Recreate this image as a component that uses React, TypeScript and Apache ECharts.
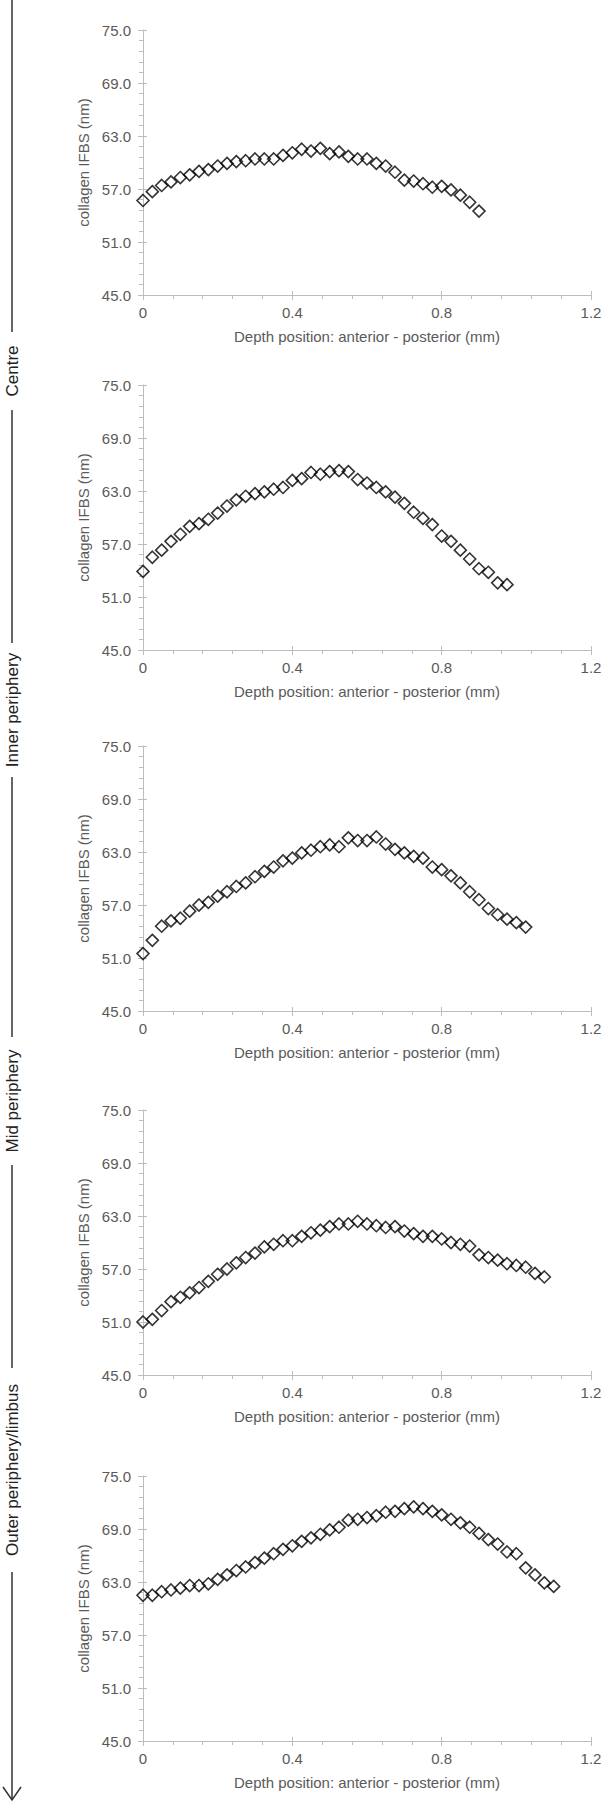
import React, { useEffect, useRef } from "react";
import * as echarts from "echarts";

// Depth positions (mm), anterior -> posterior
const depth = [
  0, 0.025, 0.05, 0.075, 0.1, 0.125, 0.15, 0.175, 0.2, 0.225,
  0.25, 0.275, 0.3, 0.325, 0.35, 0.375, 0.4, 0.425, 0.45, 0.475,
  0.5, 0.525, 0.55, 0.575, 0.6, 0.625, 0.65, 0.675, 0.7, 0.725,
  0.75, 0.775, 0.8, 0.825, 0.85, 0.875, 0.9, 0.925, 0.95, 0.975,
  1.0, 1.025, 1.05, 1.075, 1.1,
];

// collagen IFBS (nm) per panel, top to bottom
const panel1 = [
  55.7, 56.7, 57.4, 57.8, 58.3, 58.6, 59.0, 59.2, 59.6, 59.9,
  60.1, 60.2, 60.4, 60.4, 60.4, 60.8, 61.1, 61.5, 61.3, 61.6,
  61.0, 61.2, 60.7, 60.4, 60.4, 59.9, 59.6, 58.9, 58.0, 57.9,
  57.6, 57.2, 57.3, 56.9, 56.3, 55.5, 54.5,
];
const panel2 = [
  53.9, 55.5, 56.3, 57.3, 58.1, 59.0, 59.3, 59.8, 60.5, 61.3,
  62.0, 62.4, 62.7, 62.9, 63.2, 63.4, 64.2, 64.4, 65.1, 64.9,
  65.2, 65.3, 65.2, 64.3, 63.9, 63.4, 62.9, 62.3, 61.6, 60.6,
  59.9, 59.2, 57.9, 57.3, 56.3, 55.3, 54.2, 53.8, 52.6, 52.4,
];
const panel3 = [
  51.5, 53.0, 54.6, 55.2, 55.5, 56.3, 57.0, 57.3, 58.0, 58.5,
  59.1, 59.5, 60.2, 60.8, 61.3, 62.0, 62.3, 62.9, 63.2, 63.6,
  63.8, 63.6, 64.6, 64.3, 64.3, 64.7, 63.9, 63.3, 62.9, 62.5,
  62.3, 61.3, 61.0, 60.3, 59.5, 58.5, 57.6, 56.6, 55.9, 55.4,
  55.0, 54.5,
];
const panel4 = [
  51.0, 51.3, 52.3, 53.3, 53.8, 54.3, 54.9, 55.6, 56.4, 57.0,
  57.7, 58.3, 58.8, 59.5, 59.8, 60.2, 60.2, 60.7, 61.1, 61.4,
  61.8, 62.1, 62.1, 62.4, 62.1, 61.9, 61.7, 61.8, 61.3, 61.0,
  60.7, 60.7, 60.4, 60.0, 59.8, 59.6, 58.6, 58.3, 58.0, 57.6,
  57.4, 57.2, 56.5, 56.1,
];
const panel5 = [
  61.5, 61.5, 61.9, 62.1, 62.3, 62.6, 62.6, 62.8, 63.3, 63.8,
  64.3, 64.7, 65.2, 65.7, 66.2, 66.7, 67.1, 67.6, 68.0, 68.4,
  68.9, 69.2, 70.0, 70.1, 70.3, 70.5, 70.9, 71.0, 71.3, 71.5,
  71.3, 71.0, 70.6, 70.1, 69.7, 69.2, 68.5, 67.8, 67.3, 66.4,
  66.2, 64.6, 63.8, 62.9, 62.5,
];

const panels = [panel1, panel2, panel3, panel4, panel5];

const yTicks = [45, 51, 57, 63, 69, 75];
const xTicks = [0, 0.4, 0.8, 1.2];

const xTitle = "Depth position: anterior - posterior (mm)";
const yTitle = "collagen IFBS (nm)";

const regionLabels = ["Centre", "Inner periphery", "Mid periphery", "Outer periphery/limbus"];

export default function App() {
  const ref = useRef<HTMLDivElement>(null);

  useEffect(() => {
    document.body.style.margin = "0";
    if (!ref.current) return;
    const chart = echarts.init(ref.current, undefined, { renderer: "svg" });

    const tops = [30, 385, 746, 1110, 1476];
    const gridLeft = 143;
    const gridWidth = 448;
    const gridHeight = 265;

    const axisColor = "#bdbdbd";
    const labelColor = "#5a5a5a";
    const fontFamily = "'Liberation Sans', Arial, sans-serif";

    const grids: any[] = [];
    const xAxes: any[] = [];
    const yAxes: any[] = [];
    const series: any[] = [];

    const yMin = yTicks[0];
    const yMax = yTicks[yTicks.length - 1];
    const yInt = yTicks[1] - yTicks[0];
    const xMin = xTicks[0];
    const xMax = xTicks[xTicks.length - 1];
    const xInt = xTicks[1] - xTicks[0];

    panels.forEach((vals, i) => {
      grids.push({ left: gridLeft, top: tops[i], width: gridWidth, height: gridHeight });

      // primary x axis
      xAxes.push({
        type: "value",
        gridIndex: i,
        position: "bottom",
        min: xMin,
        max: xMax,
        interval: xInt,
        axisLine: { show: true, lineStyle: { color: axisColor, width: 1 } },
        axisTick: { show: true, length: 5, lineStyle: { color: axisColor } },
        minorTick: { show: true, splitNumber: 5, length: 4, lineStyle: { color: axisColor } },
        splitLine: { show: false },
        minorSplitLine: { show: false },
        axisLabel: {
          color: labelColor,
          fontSize: 15,
          fontFamily,
          margin: 10,
          formatter: (v: number) => (v === 0 ? "0" : v.toFixed(1)),
        },
        name: xTitle,
        nameLocation: "middle",
        nameGap: 34,
        nameTextStyle: { color: labelColor, fontSize: 15, fontFamily },
      });
      // secondary x axis: inward half of major ticks
      xAxes.push({
        type: "value",
        gridIndex: i,
        position: "bottom",
        offset: 0,
        min: xMin,
        max: xMax,
        interval: xInt,
        axisLine: { show: false },
        axisTick: { show: true, inside: true, length: 4, lineStyle: { color: axisColor } },
        axisLabel: { show: false },
        splitLine: { show: false },
      });

      // primary y axis
      yAxes.push({
        type: "value",
        gridIndex: i,
        position: "left",
        min: yMin,
        max: yMax,
        interval: yInt,
        axisLine: { show: true, lineStyle: { color: axisColor, width: 1 } },
        axisTick: { show: true, length: 5, lineStyle: { color: axisColor } },
        minorTick: { show: true, splitNumber: 5, length: 4, lineStyle: { color: axisColor } },
        splitLine: { show: false },
        minorSplitLine: { show: false },
        axisLabel: {
          color: labelColor,
          fontSize: 15,
          fontFamily,
          margin: 12,
          formatter: (v: number) => v.toFixed(1),
        },
        name: yTitle,
        nameLocation: "middle",
        nameGap: 51,
        nameTextStyle: { color: labelColor, fontSize: 15, fontFamily },
      });
      yAxes.push({
        type: "value",
        gridIndex: i,
        position: "left",
        offset: 0,
        min: yMin,
        max: yMax,
        interval: yInt,
        axisLine: { show: false },
        axisTick: { show: true, inside: true, length: 4, lineStyle: { color: axisColor } },
        axisLabel: { show: false },
        splitLine: { show: false },
      });

      series.push({
        type: "scatter",
        xAxisIndex: i * 2,
        yAxisIndex: i * 2,
        symbol: "diamond",
        symbolSize: 12,
        itemStyle: { color: "rgba(0,0,0,0)", borderColor: "#000", borderWidth: 1.6 },
        data: vals.map((v, k) => [depth[k], v]),
      });
    });

    // Left side annotation: vertical arrow with region labels
    const lineX = 12;
    const lineColor = "#333";
    const labelCenters = [371, 710, 1101, 1470];
    const labelHalf = [27, 55, 52, 90];
    const segs: number[][] = [];
    let prev = 0;
    labelCenters.forEach((c, k) => {
      segs.push([prev, c - labelHalf[k] - 12]);
      prev = c + labelHalf[k] + 12;
    });
    segs.push([prev, 1800]);

    const graphic: any[] = [];
    segs.forEach((s) => {
      graphic.push({
        type: "line",
        shape: { x1: lineX, y1: s[0], x2: lineX, y2: s[1] },
        style: { stroke: lineColor, lineWidth: 1.5 },
      });
    });
    regionLabels.forEach((t, k) => {
      graphic.push({
        type: "text",
        x: lineX,
        y: labelCenters[k],
        rotation: Math.PI / 2,
        style: {
          text: t,
          fill: "#222",
          font: "17px 'Liberation Sans Narrow', 'Arial Narrow', 'Liberation Sans', sans-serif",
          align: "center",
          verticalAlign: "middle",
        },
      });
    });
    graphic.push({
      type: "polyline",
      shape: { points: [[3, 1787], [lineX, 1800], [21, 1787]] },
      style: { stroke: lineColor, lineWidth: 1.5, fill: "none" },
    });

    chart.setOption({
      animation: false,
      backgroundColor: "#ffffff",
      grid: grids,
      xAxis: xAxes,
      yAxis: yAxes,
      series,
      graphic,
    });

    return () => chart.dispose();
  }, []);

  return <div ref={ref} style={{ width: 612, height: 1805 }} />;
}
